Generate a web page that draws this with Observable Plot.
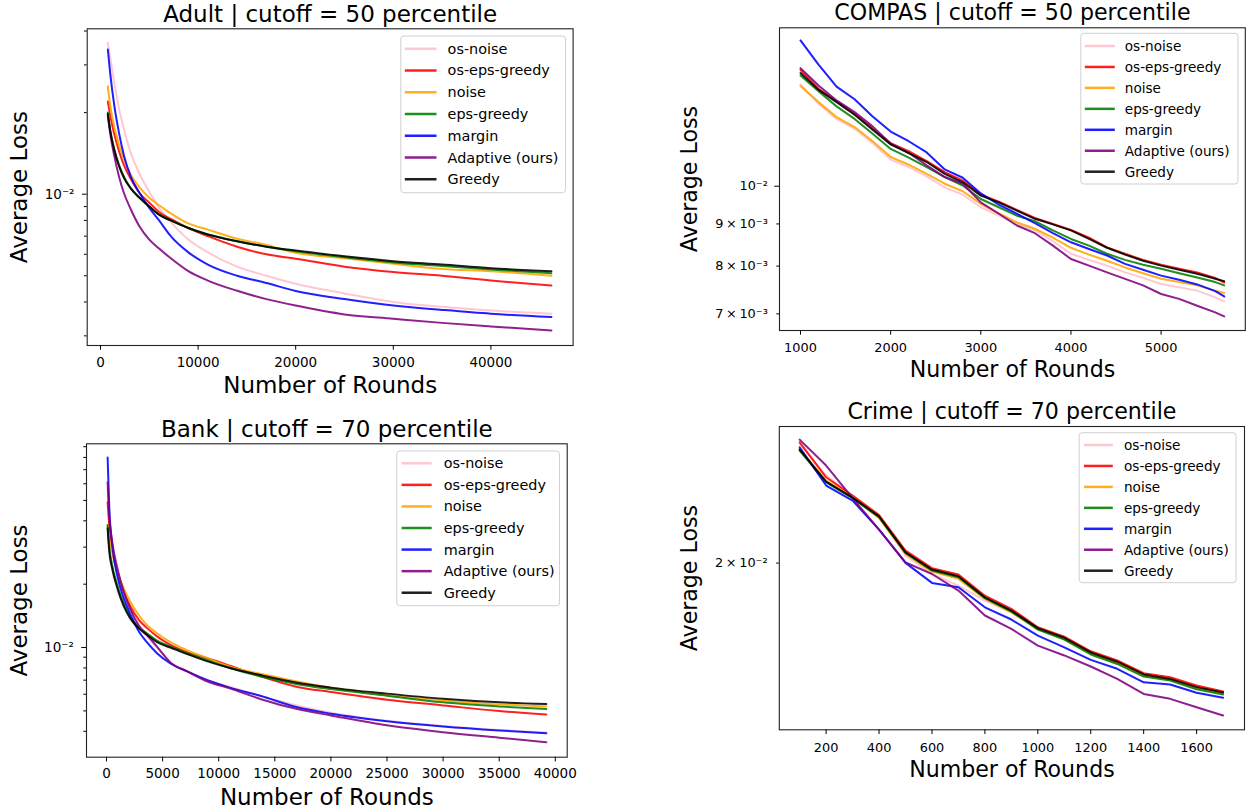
<!DOCTYPE html>
<html><head><meta charset="utf-8">
<script src="https://cdn.jsdelivr.net/npm/d3@7"></script>
<script src="https://cdn.jsdelivr.net/npm/@observablehq/plot@0.6"></script>
<style>
body{margin:0;background:#fff;}
#fig{position:relative;width:1247px;height:811px;overflow:hidden;background:#fff;font-family:"DejaVu Sans",sans-serif;}
.panel{position:absolute;}
</style></head><body><div id="fig"></div>
<script>
// ---------- series ----------
const seriesNames = ["os-noise","os-eps-greedy","noise","eps-greedy","margin","Adaptive (ours)","Greedy"];
const seriesColors = ["#ffc0cb","#ff0000","#ffa500","#008000","#0000ff","#800080","#000000"];

// ---------- Adult ----------
const adultRounds = [750,1000,1400,1900,2400,3100,4000,5000,6000,7200,9000,11000,14000,17000,20000,25000,30000,35000,40000,46200];
const adultOsNoise   = [0.0362,0.0320,0.0258,0.0207,0.0174,0.0142,0.0119,0.0102,0.0089,0.0079,0.0068,0.0061,0.0054,0.0050,0.00467,0.0043,0.0040,0.00384,0.00372,0.00362];
const adultOsEps     = [0.0220,0.0195,0.0167,0.0144,0.0128,0.0114,0.0101,0.0093,0.0086,0.0081,0.0075,0.0070,0.0064,0.0060,0.00578,0.0054,0.00516,0.0050,0.0048,0.0046];
const adultNoise     = [0.0250,0.0212,0.0178,0.0152,0.0135,0.0118,0.0106,0.0097,0.0091,0.0085,0.0078,0.0074,0.00685,0.0065,0.00608,0.0058,0.00554,0.0053,0.0052,0.0050];
const adultEps       = [0.0200,0.0172,0.0147,0.0128,0.0116,0.0105,0.0097,0.0090,0.0084,0.0080,0.0075,0.0071,0.0067,0.0064,0.00615,0.00585,0.0056,0.00543,0.00527,0.00511];
const adultMargin    = [0.0342,0.0278,0.0214,0.0168,0.0139,0.0116,0.0101,0.0089,0.0080,0.0070,0.0061,0.0055,0.0050,0.0047,0.00439,0.0041,0.00388,0.00374,0.00362,0.00352];
const adultAdaptive  = [0.0195,0.0167,0.0139,0.0116,0.0101,0.0088,0.0076,0.0068,0.0063,0.0058,0.0052,0.0048,0.0044,0.0041,0.00388,0.0036,0.00347,0.00335,0.00325,0.00314];
const adultGreedy    = [0.0198,0.0171,0.0146,0.0127,0.0115,0.0105,0.0097,0.0090,0.0084,0.0080,0.0075,0.0071,0.0067,0.0064,0.0062,0.0059,0.00566,0.0055,0.00533,0.0052];

// ---------- COMPAS ----------
const compasRounds = [1000,1200,1400,1600,1800,2000,2200,2400,2600,2800,3000,3200,3400,3600,3800,4000,4200,4400,4600,4800,5000,5200,5400,5600,5700];
const compasOsNoise  = [0.01329,0.01259,0.01207,0.01174,0.01128,0.01077,0.01055,0.01028,0.00997,0.00977,0.00943,0.00921,0.00900,0.00884,0.00858,0.00828,0.00814,0.00801,0.00786,0.00774,0.00761,0.00754,0.00747,0.00733,0.00725];
const compasOsEps    = [0.01384,0.01313,0.01268,0.01224,0.01175,0.01128,0.01103,0.01073,0.01040,0.01016,0.00977,0.00958,0.00936,0.00915,0.00900,0.00885,0.00866,0.00843,0.00828,0.00814,0.00803,0.00794,0.00786,0.00774,0.00764];
const compasNoise    = [0.01323,0.01265,0.01213,0.01180,0.01134,0.01085,0.01062,0.01035,0.01007,0.00986,0.00952,0.00927,0.00904,0.00888,0.00866,0.00842,0.00826,0.00812,0.00797,0.00784,0.00772,0.00765,0.00758,0.00747,0.00742];
const compasEps      = [0.01363,0.01304,0.01250,0.01207,0.01158,0.01110,0.01083,0.01055,0.01026,0.01002,0.00965,0.00943,0.00921,0.00907,0.00884,0.00863,0.00847,0.00828,0.00814,0.00803,0.00794,0.00784,0.00775,0.00765,0.00758];
const compasMargin   = [0.01503,0.01405,0.01321,0.01275,0.01215,0.01165,0.01134,0.01099,0.01048,0.01024,0.00980,0.00950,0.00926,0.00902,0.00877,0.00855,0.00839,0.00824,0.00805,0.00792,0.00779,0.00770,0.00760,0.00746,0.00735];
const compasAdaptive = [0.01391,0.01325,0.01271,0.01230,0.01182,0.01126,0.01098,0.01060,0.01026,0.01007,0.00956,0.00926,0.00896,0.00877,0.00847,0.00816,0.00801,0.00786,0.00772,0.00758,0.00740,0.00730,0.00716,0.00703,0.00695];
const compasGreedy   = [0.01372,0.01309,0.01265,0.01221,0.01171,0.01124,0.01097,0.01070,0.01035,0.01011,0.00974,0.00956,0.00934,0.00913,0.00899,0.00884,0.00863,0.00842,0.00826,0.00812,0.00801,0.00792,0.00783,0.00772,0.00767];

// ---------- Bank ----------
const bankRounds = [100,250,500,1000,1500,2100,2900,3600,4500,5700,7200,9000,11000,13700,17000,20000,25000,30000,35000,39200];
const bankOsNoise  = [0.057,0.041,0.031,0.0232,0.0186,0.0152,0.0126,0.0113,0.0100,0.0085,0.0077,0.0070,0.0065,0.0059,0.0053,0.0049,0.00449,0.00424,0.00406,0.00395];
const bankOsEps    = [0.049,0.038,0.0297,0.0226,0.0187,0.0158,0.0135,0.0124,0.0113,0.0103,0.0095,0.0089,0.0082,0.0073,0.0065,0.00615,0.00565,0.00531,0.00499,0.00481];
const bankNoise    = [0.038,0.033,0.0285,0.0226,0.0193,0.0166,0.0142,0.0128,0.0117,0.0106,0.0097,0.0089,0.0081,0.0075,0.0069,0.00645,0.00595,0.00561,0.00537,0.00525];
const bankEps      = [0.0382,0.030,0.0247,0.0195,0.0164,0.0141,0.0125,0.0117,0.0108,0.0101,0.0094,0.0087,0.0080,0.0073,0.0067,0.00635,0.0059,0.00549,0.00525,0.0051];
const bankMargin   = [0.080,0.046,0.031,0.0215,0.0174,0.0145,0.0119,0.0106,0.0094,0.0084,0.0077,0.0070,0.00645,0.0059,0.0052,0.00485,0.00447,0.00422,0.00404,0.00392];
const bankAdaptive = [0.061,0.042,0.032,0.0234,0.0187,0.0153,0.0127,0.0115,0.0101,0.0085,0.0077,0.0069,0.0064,0.0057,0.0051,0.00476,0.00427,0.00396,0.00373,0.00355];
const bankGreedy   = [0.0369,0.0285,0.0238,0.0189,0.0159,0.0138,0.0123,0.0115,0.0106,0.0100,0.0093,0.0086,0.0080,0.0074,0.0068,0.00645,0.00604,0.00571,0.00549,0.00539];

// ---------- Crime ----------
const crimeRounds = [100,200,300,400,500,600,700,800,900,1000,1100,1200,1300,1400,1500,1600,1700];
const crimeOsNoise  = [0.02713,0.02502,0.02373,0.02254,0.02039,0.01945,0.01888,0.01817,0.01763,0.01690,0.01653,0.01593,0.01555,0.01506,0.01490,0.01458,0.01438];
const crimeOsEps    = [0.02724,0.02491,0.02377,0.02262,0.02065,0.01974,0.01942,0.01840,0.01779,0.01697,0.01657,0.01596,0.01559,0.01509,0.01493,0.01462,0.01440];
const crimeNoise    = [0.02679,0.02470,0.02367,0.02243,0.02048,0.01957,0.01921,0.01825,0.01763,0.01690,0.01647,0.01587,0.01549,0.01500,0.01485,0.01452,0.01432];
const crimeEps      = [0.02667,0.02459,0.02361,0.02249,0.02053,0.01962,0.01929,0.01828,0.01767,0.01687,0.01644,0.01583,0.01545,0.01496,0.01481,0.01448,0.01429];
const crimeMargin   = [0.02690,0.02439,0.02347,0.02179,0.02001,0.01901,0.01880,0.01786,0.01731,0.01661,0.01612,0.01561,0.01526,0.01474,0.01466,0.01435,0.01417];
const crimeAdaptive = [0.02743,0.02567,0.02361,0.02179,0.02004,0.01945,0.01864,0.01749,0.01690,0.01619,0.01579,0.01535,0.01487,0.01431,0.01413,0.01383,0.01354];
const crimeGreedy   = [0.02674,0.02464,0.02365,0.02254,0.02056,0.01967,0.01934,0.01832,0.01771,0.01693,0.01652,0.01591,0.01554,0.01504,0.01487,0.01456,0.01436];

// ---------- ticks / labels ----------
const adultXTicks = [0,10000,20000,30000,40000];
const bankXTicks = [0,5000,10000,15000,20000,25000,30000,35000,40000];
const compasXTicks = [1000,2000,3000,4000,5000];
const crimeXTicks = [200,400,600,800,1000,1200,1400,1600];
const adultYMajor = [0.01], adultYMajorLabels = ["10\u207B\u00B2"];
const adultYMinor = [0.003,0.004,0.005,0.006,0.007,0.008,0.009,0.02,0.03,0.04];
const bankYMajor = [0.01], bankYMajorLabels = ["10\u207B\u00B2"];
const bankYMinor = [0.004,0.005,0.006,0.007,0.008,0.009,0.02,0.03,0.04,0.05,0.06,0.07,0.08,0.09];
const compasYMajor = [0.01], compasYMajorLabels = ["10\u207B\u00B2"];
const compasYMinor = [0.007,0.008,0.009];
const compasYMinorLabels = ["7\u2009\u00D7\u200910\u207B\u00B3","8\u2009\u00D7\u200910\u207B\u00B3","9\u2009\u00D7\u200910\u207B\u00B3"];
const crimeYMinor = [0.02], crimeYMinorLabels = ["2\u2009\u00D7\u200910\u207B\u00B2"];

const fig = document.getElementById("fig");

function makeData(rounds, arrays) {
  const out = [];
  arrays.forEach((arr, si) => arr.forEach((v, i) => out.push({series: seriesNames[si], x: rounds[i], y: v})));
  return out;
}
function fmtFrom(vals, labels) {
  return d => { const i = vals.findIndex(v => Math.abs(v - d) < 1e-12); return i >= 0 ? labels[i] : ""; };
}

function panel(c) {
  const inDom = t => t >= Math.min(...c.yDomain) && t <= Math.max(...c.yDomain);
  const marks = [
    Plot.line(c.data, {x: "x", y: "y", stroke: "series", z: "series", strokeWidth: 2, strokeOpacity: 0.88, curve: c.curve}),
    Plot.frame({stroke: "#222", strokeWidth: 1.1}),
    Plot.axisX(c.xTicks, {tickSize: 4.7, tickPadding: c.xPad, label: null, tickFormat: d => String(d)}),
    Plot.axisY(c.yMajor.filter(inDom), {tickSize: 4.7, tickPadding: c.yPad, label: null, tickFormat: c.yMajorFmt}),
    Plot.axisY(c.yMinor.filter(inDom), {tickSize: 2.7, tickPadding: c.yPad + 2, label: null, tickFormat: c.yMinorFmt}),
    Plot.text([c.title], {text: d => d, frameAnchor: "top", textAnchor: "middle", dy: c.titleDy, lineAnchor: "bottom", fontSize: c.big}),
    Plot.text(["Number of Rounds"], {text: d => d, frameAnchor: "bottom", textAnchor: "middle", dy: c.xlabDy, lineAnchor: "bottom", fontSize: c.big}),
    Plot.text(["Average Loss"], {text: d => d, frameAnchor: "left", textAnchor: "middle", dx: c.ylabDx, rotate: -90, lineAnchor: "bottom", fontSize: c.big})
  ];
  const svg = Plot.plot({
    width: c.w, height: c.h,
    marginLeft: c.ml, marginRight: c.mr, marginTop: c.mt, marginBottom: c.mb,
    style: {fontFamily: "'DejaVu Sans', sans-serif", fontSize: c.tick + "px", background: "transparent", color: "#000", overflow: "visible"},
    x: {domain: c.xDomain},
    y: {type: "log", domain: c.yDomain},
    color: {domain: seriesNames, range: seriesColors},
    marks
  });
  const div = document.createElement("div");
  div.className = "panel";
  div.style.left = c.left + "px"; div.style.top = c.top + "px";
  div.style.width = c.w + "px"; div.style.height = c.h + "px";
  div.appendChild(svg);
  fig.appendChild(div);
}

panel({
  left: 0, top: 0, w: 620, h: 400, ml: 86.7, mr: 47.4, mt: 28.3, mb: 55,
  big: 23, tick: 13.5, xPad: 7, yPad: 8, titleDy: -7.3, xlabDy: 47.7, ylabDx: -60.2,
  title: "Adult | cutoff = 50 percentile", curve: "monotone-x",
  data: makeData(adultRounds, [adultOsNoise, adultOsEps, adultNoise, adultEps, adultMargin, adultAdaptive, adultGreedy]),
  xDomain: [-1363, 48422], yDomain: [0.002764, 0.04077], xTicks: adultXTicks,
  yMajor: adultYMajor, yMajorFmt: fmtFrom(adultYMajor, adultYMajorLabels),
  yMinor: adultYMinor, yMinorFmt: () => ""
});
panel({
  left: 620, top: 0, w: 627, h: 400, ml: 159, mr: 2.2, mt: 27.3, mb: 70,
  big: 22.1, tick: 12.9, xPad: 8, yPad: 7, titleDy: -8, xlabDy: 46.7, ylabDx: -82.5,
  title: "COMPAS | cutoff = 50 percentile", curve: "linear",
  data: makeData(compasRounds, [compasOsNoise, compasOsEps, compasNoise, compasEps, compasMargin, compasAdaptive, compasGreedy]),
  xDomain: [767, 5934], yDomain: [0.006682, 0.01557], xTicks: compasXTicks,
  yMajor: compasYMajor, yMajorFmt: fmtFrom(compasYMajor, compasYMajorLabels),
  yMinor: compasYMinor, yMinorFmt: fmtFrom(compasYMinor, compasYMinorLabels)
});
panel({
  left: 0, top: 400, w: 620, h: 411, ml: 86, mr: 53.3, mt: 43.3, mb: 54.3,
  big: 23, tick: 13.5, xPad: 7, yPad: 8, titleDy: -7.3, xlabDy: 47.3, ylabDx: -59.5,
  title: "Bank | cutoff = 70 percentile", curve: "monotone-x",
  data: makeData(bankRounds, [bankOsNoise, bankOsEps, bankNoise, bankEps, bankMargin, bankAdaptive, bankGreedy]),
  xDomain: [-1782, 41060], yDomain: [0.003013, 0.0929], xTicks: bankXTicks,
  yMajor: bankYMajor, yMajorFmt: fmtFrom(bankYMajor, bankYMajorLabels),
  yMinor: bankYMinor, yMinorFmt: () => ""
});
panel({
  left: 620, top: 400, w: 627, h: 411, ml: 158.8, mr: 3, mt: 26, mb: 81.7,
  big: 22.1, tick: 12.9, xPad: 8, yPad: 7, titleDy: -7.7, xlabDy: 46.7, ylabDx: -82.3,
  title: "Crime | cutoff = 70 percentile", curve: "linear",
  data: makeData(crimeRounds, [crimeOsNoise, crimeOsEps, crimeNoise, crimeEps, crimeMargin, crimeAdaptive, crimeGreedy]),
  xDomain: [23, 1781], yDomain: [0.013054, 0.028368], xTicks: crimeXTicks,
  yMajor: [], yMajorFmt: () => "",
  yMinor: crimeYMinor, yMinorFmt: fmtFrom(crimeYMinor, crimeYMinorLabels)
});

// ---------- legends (overlay) ----------
const legendBoxes = [
  {x0: 400.8, y0: 36, x1: 565.5, y1: 192.7, row0: 48.7, dy: 21.77, h0: 404.8, h1: 436.5, tx: 447.6, fs: 14.4},
  {x0: 1080.8, y0: 33.3, x1: 1238, y1: 184, row0: 46, dy: 20.95, h0: 1084.8, h1: 1114.8, tx: 1124.8, fs: 13.6},
  {x0: 396.8, y0: 451, x1: 559.5, y1: 605.7, row0: 463.3, dy: 21.57, h0: 401.6, h1: 431.7, tx: 443.7, fs: 14.4},
  {x0: 1079.2, y0: 432.7, x1: 1236, y1: 582.7, row0: 445, dy: 20.95, h0: 1084, h1: 1112.8, tx: 1124, fs: 13.6}
];
let s = '<svg width="1247" height="811" style="position:absolute;left:0;top:0;pointer-events:none;font-family:\'DejaVu Sans\',sans-serif">';
for (const L of legendBoxes) {
  s += `<rect x="${L.x0}" y="${L.y0}" width="${L.x1 - L.x0}" height="${L.y1 - L.y0}" rx="3" fill="#fff" fill-opacity="0.8" stroke="#d0d0d0" stroke-width="1"/>`;
  seriesNames.forEach((name, i) => {
    const y = L.row0 + i * L.dy;
    s += `<line x1="${L.h0}" x2="${L.h1}" y1="${y}" y2="${y}" stroke="${seriesColors[i]}" stroke-opacity="0.88" stroke-width="2.5"/>`;
    s += `<text x="${L.tx}" y="${y}" dominant-baseline="central" font-size="${L.fs}" fill="#000">${name}</text>`;
  });
}
s += '</svg>';
fig.insertAdjacentHTML("beforeend", s);
</script>
</body></html>
